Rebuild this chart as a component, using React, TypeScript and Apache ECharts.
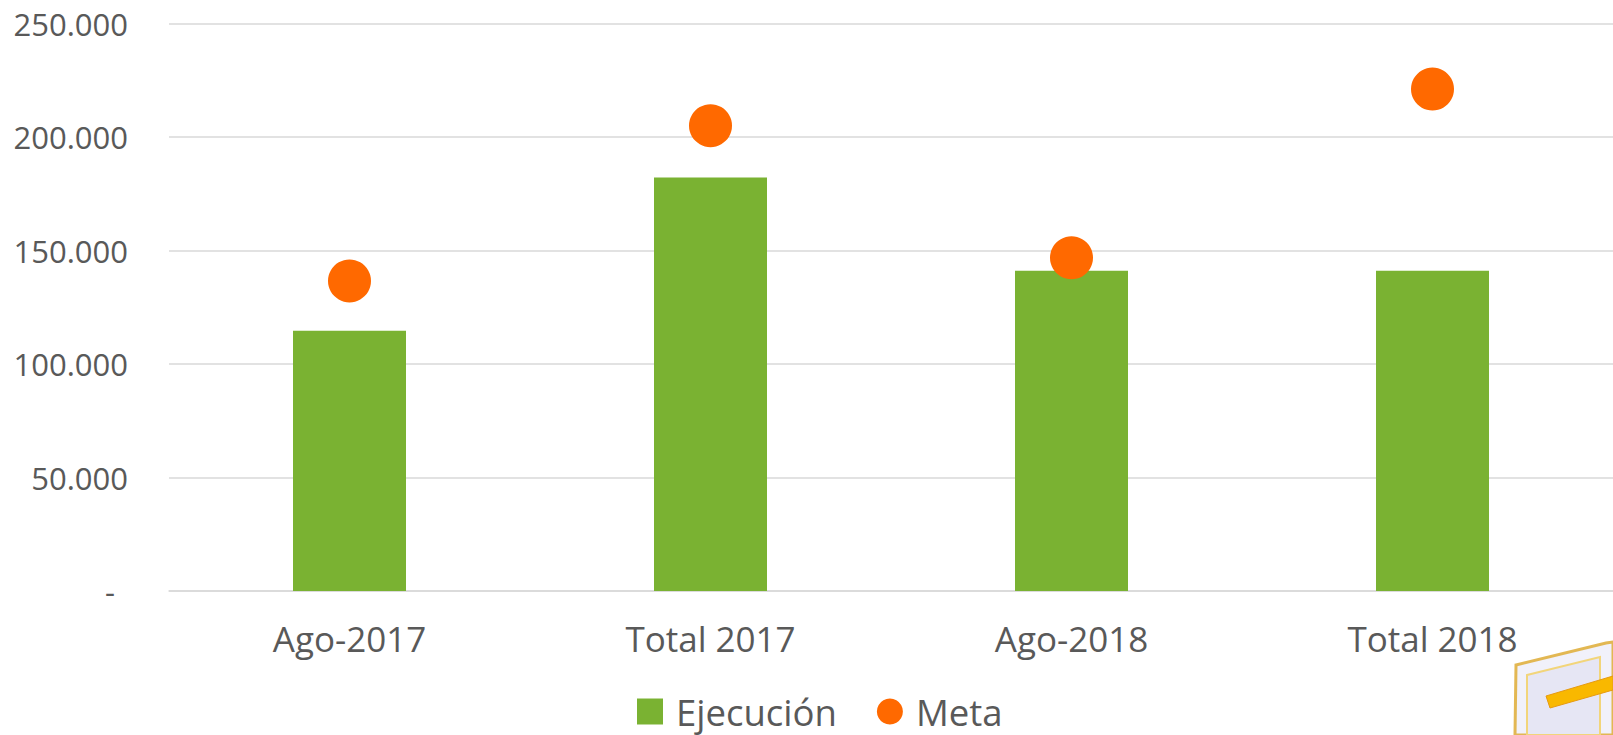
import React, { useEffect, useRef } from "react";
import * as echarts from "echarts";

const categories = ["Ago-2017", "Total 2017", "Ago-2018", "Total 2018"];
const ejecucion = [114700, 182200, 141100, 141100];
const meta = [136600, 205000, 146800, 221100];
const yTicks = { min: 0, max: 250000, interval: 50000 };

const FONT = "'Open Sans', sans-serif";
const TEXT = "#595959";

function fmt(v: number): string {
  if (v === 0) return "{d|-}";
  return String(v).replace(/\B(?=(\d{3})+(?!\d))/g, ".");
}

export default function App() {
  const ref = useRef<HTMLDivElement>(null);
  useEffect(() => {
    if (!ref.current) return;
    const chart = echarts.init(ref.current, null, { renderer: "svg" });
    chart.setOption({
      animation: false,
      backgroundColor: "#ffffff",
      grid: { left: 169, right: 0, top: 23.5, bottom: 144, containLabel: false },
      xAxis: {
        type: "category",
        data: categories,
        axisTick: { show: false },
        axisLine: { lineStyle: { color: "#d9d9d9", width: 1.5 } },
        axisLabel: { color: TEXT, fontSize: 35, fontFamily: FONT, margin: 30 },
      },
      yAxis: {
        type: "value",
        min: yTicks.min,
        max: yTicks.max,
        interval: yTicks.interval,
        axisLine: { show: false },
        axisTick: { show: false },
        splitLine: { lineStyle: { color: "#d9d9d9", width: 1.5 } },
        axisLabel: {
          color: TEXT,
          fontSize: 31,
          fontFamily: FONT,
          margin: 41,
          formatter: fmt,
          rich: { d: { color: TEXT, fontSize: 31, fontFamily: FONT, padding: [0, 13, 0, 0] } },
        },
      },
      legend: {
        left: 632,
        top: 688,
        itemWidth: 26,
        itemHeight: 26,
        itemGap: 40,
        textStyle: { color: TEXT, fontSize: 36.5, fontFamily: FONT, padding: [0, 0, 0, 8] },
        data: [
          { name: "Ejecución", icon: "rect" },
          { name: "Meta", icon: "circle" },
        ],
      },
      series: [
        {
          name: "Ejecución",
          type: "bar",
          data: ejecucion,
          barWidth: 113,
          itemStyle: { color: "#7ab232" },
        },
        {
          name: "Meta",
          type: "scatter",
          data: meta,
          symbol: "circle",
          symbolSize: 43,
          itemStyle: { color: "#ff6900", opacity: 1 },
          z: 3,
        },
      ],
      graphic: [
        {
          type: "polygon",
          shape: { points: [[1516, 665], [1606, 643], [1613, 642], [1613, 735], [1515, 735]] },
          style: { fill: "#f0f0fa", stroke: "#e0b040", lineWidth: 3, opacity: 0.9 },
          silent: true,
        },
        {
          type: "polygon",
          shape: { points: [[1527, 675], [1600, 657], [1600, 735], [1527, 735]] },
          style: { fill: "#e6e6f4", stroke: "#f2d57a", lineWidth: 2 },
          silent: true,
        },
        {
          type: "polygon",
          shape: { points: [[1546, 696], [1613, 676], [1613, 690], [1550, 708]] },
          style: { fill: "#f9b800", stroke: "#e69a10", lineWidth: 1 },
          silent: true,
        },
      ],
    });
    return () => chart.dispose();
  }, []);
  return (
    <div
      ref={ref}
      style={{ position: "fixed", left: 0, top: 0, width: 1613, height: 735, background: "#fff" }}
    />
  );
}
